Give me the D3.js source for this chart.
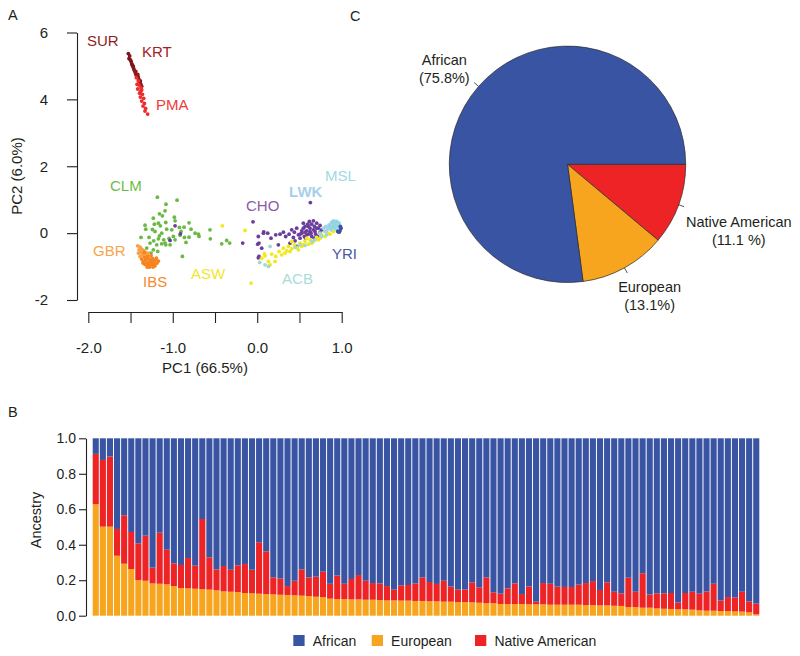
<!DOCTYPE html>
<html><head><meta charset="utf-8">
<script src="https://cdn.jsdelivr.net/npm/d3@7"></script>
<style>
body{margin:0;background:#fff}
text{font-family:"Liberation Sans",Arial,Helvetica,sans-serif;fill:#231f20}
</style>
</head><body>
<svg id="c" width="800" height="656"></svg>
<script>
// ---------------- Panel A: PCA scatter (PC1, PC2) ----------------
const ptsSUR = [[-1.526,5.37],[-1.510,5.30],[-1.518,5.22],[-1.502,5.18],[-1.494,5.14],[-1.486,5.07],[-1.479,5.02],[-1.471,5.00],[-1.467,4.97],[-1.463,4.92]];
const ptsKRT = [[-1.455,4.87],[-1.447,4.82],[-1.439,4.84],[-1.439,4.77],[-1.431,4.72],[-1.415,4.75],[-1.423,4.68],[-1.408,4.67],[-1.408,4.63],[-1.400,4.58],[-1.384,4.55],[-1.392,4.53],[-1.384,4.48],[-1.376,4.43],[-1.368,4.39]];
const ptsPMA = [[-1.431,4.65],[-1.408,4.55],[-1.400,4.43],[-1.423,4.45],[-1.376,4.35],[-1.368,4.28],[-1.415,4.31],[-1.384,4.23],[-1.392,4.18],[-1.360,4.15],[-1.384,4.07],[-1.344,4.03],[-1.368,3.95],[-1.336,3.88],[-1.352,3.80],[-1.321,3.73],[-1.329,3.65],[-1.297,3.56]];
const ptsCLM = [[-1.182,1.074],[-0.949,0.985],[-1.080,0.865],[-1.091,0.666],[-1.158,0.577],[-0.981,0.477],[-1.230,0.447],[-1.123,0.517],[-1.328,0.238],[-1.218,0.268],[-1.170,0.298],[-1.147,0.218],[-1.083,0.318],[-0.973,0.368],[-0.807,0.308],[-0.866,0.179],[-0.922,0.169],[-0.784,0.119],[-0.736,-0.001],[-1.320,0.119],[-1.241,0.109],[-1.210,0.049],[-1.131,-0.001],[-1.158,-0.080],[-1.376,-0.130],[-1.281,-0.130],[-1.226,-0.229],[-1.170,-0.170],[-1.107,-0.200],[-1.091,-0.299],[-1.044,-0.160],[-0.993,-0.100],[-0.973,-0.200],[-0.914,-0.060],[-0.862,-0.130],[-0.843,-0.279],[-0.807,-0.120],[-1.269,-0.299],[-1.190,-0.349],[-1.131,-0.319],[-1.308,-0.448],[-1.230,-0.498],[-1.257,-0.598],[-1.178,-0.548],[-0.886,-0.697],[-0.689,-0.100],[-0.902,0.049],[-1.012,0.099],[-1.072,0.119],[-1.032,-0.349],[-1.083,-0.349],[-0.697,-0.031],[-0.559,0.098],[-0.555,-0.170],[-0.421,-0.319],[-0.362,-0.220],[-0.326,-0.299]];
const ptsGBR = [[-1.415,-0.379],[-1.387,-0.418],[-1.368,-0.478],[-1.399,-0.498],[-1.348,-0.518],[-1.376,-0.578],[-1.328,-0.558],[-1.360,-0.647],[-1.320,-0.627],[-1.289,-0.598],[-1.387,-0.697],[-1.407,-0.598]];
const ptsIBS = [[-1.336,-0.717],[-1.297,-0.697],[-1.257,-0.677],[-1.368,-0.777],[-1.320,-0.797],[-1.281,-0.777],[-1.241,-0.757],[-1.202,-0.797],[-1.348,-0.846],[-1.304,-0.876],[-1.265,-0.846],[-1.226,-0.856],[-1.186,-0.896],[-1.328,-0.936],[-1.289,-0.956],[-1.249,-0.936],[-1.210,-0.976],[-1.273,-1.015],[-1.234,-1.015],[-1.304,-1.015],[-1.170,-0.836],[-1.336,-0.578],[-1.312,-0.757],[-1.273,-0.896],[-1.218,-0.916],[-1.249,-0.817],[-1.352,-0.896],[-1.194,-0.747]];
const ptsCHO = [[0.073,-0.001],[0.124,-0.001],[0.163,-0.150],[0.219,-0.051],[0.270,-0.031],[0.310,0.029],[0.337,-0.101],[0.377,-0.031],[0.408,0.098],[0.440,0.029],[0.467,0.148],[0.487,-0.051],[0.527,0.068],[0.566,0.198],[0.598,0.267],[0.625,0.148],[0.645,0.267],[0.677,0.198],[0.704,0.297],[0.724,0.148],[0.606,-0.031],[0.558,-0.101],[0.507,-0.150],[0.448,-0.230],[0.388,-0.300],[0.428,-0.131],[0.467,-0.399],[0.527,-0.001],[0.586,0.068],[0.637,-0.001],[0.665,0.098],[0.692,-0.031],[0.744,0.228],[0.763,0.098],[0.546,0.297],[0.665,0.367],[0.617,0.347],[0.021,-0.698],[0.053,-0.449],[0.006,-0.330],[0.013,-0.101],[0.250,-0.350],[0.574,-0.150],[0.716,-0.101],[0.677,-0.150],[0.629,0.914],[0.546,0.148],[0.586,-0.051],[0.625,0.049],[0.684,0.049],[0.645,-0.101],[0.566,0.029],[0.507,-0.031],[0.606,0.198],[0.704,0.148],[0.744,0.029],[-0.050,0.337],[0.077,0.039],[-0.172,-0.299],[0.021,-0.299],[0.013,-0.737],[-0.973,0.218],[-0.910,-0.020],[-1.032,-0.219]];
const ptsASW = [[0.053,-0.748],[0.092,-0.678],[0.132,-0.847],[0.171,-0.628],[0.219,-0.698],[0.258,-0.549],[0.310,-0.449],[0.349,-0.529],[0.369,-0.399],[0.408,-0.469],[0.440,-0.350],[0.467,-0.429],[0.507,-0.300],[0.527,-0.399],[0.566,-0.250],[0.606,-0.330],[0.625,-0.200],[0.665,-0.250],[0.704,-0.131],[0.744,-0.150],[0.763,-0.051],[0.803,-0.101],[0.834,-0.001],[0.862,-0.031],[0.902,0.049],[0.329,-0.598],[0.388,-0.549],[0.487,-0.499],[0.546,-0.350],[0.645,-0.300],[0.724,-0.200],[0.290,-0.648],[0.211,-0.847],[0.152,-0.947],[0.408,-0.250],[0.586,-0.150],[-0.413,0.218],[-0.144,0.079],[-0.073,-1.494],[0.085,-0.618]];
const ptsACB = [[0.152,-0.399],[0.092,-0.947],[0.132,-0.996],[0.448,-0.429],[0.507,-0.350],[0.566,-0.369],[0.645,-0.250],[0.684,-0.200],[0.763,-0.101],[0.803,0.049],[0.842,0.148],[0.882,0.148],[0.783,0.148],[0.744,-0.001],[0.823,-0.051],[0.029,-0.877]];
const ptsLWK = [[0.850,0.248],[0.874,0.168],[0.834,0.148],[0.902,0.228],[0.811,0.198],[0.921,0.267],[0.823,0.068]];
const ptsMSL = [[0.882,0.327],[0.913,0.267],[0.941,0.347],[0.961,0.198],[0.921,0.148],[0.890,0.198],[0.969,0.297],[0.945,0.098],[0.874,0.098],[0.984,0.148],[0.905,0.367],[0.937,0.228],[0.862,0.228],[0.902,0.297]];
const ptsYRI = [[0.980,0.068],[0.992,0.148],[0.969,0.029],[0.953,0.049],[0.984,0.198]];

const popNames = ["CLM","CHO","ASW","ACB","LWK","MSL","YRI","GBR","IBS","SUR","KRT","PMA"];
const popPoints = {CLM:ptsCLM,CHO:ptsCHO,ASW:ptsASW,ACB:ptsACB,LWK:ptsLWK,MSL:ptsMSL,YRI:ptsYRI,GBR:ptsGBR,IBS:ptsIBS,SUR:ptsSUR,KRT:ptsKRT,PMA:ptsPMA};
// label anchor positions (data units: PC1, PC2)
const popLabelPC1 = {SUR:-2.015,KRT:-1.364,PMA:-1.198,CLM:-1.743,LWK:0.377,MSL:0.803,CHO:-0.133,GBR:-1.944,YRI:0.885,IBS:-1.352,ASW:-0.784,ACB:0.294};
const popLabelPC2 = {SUR:5.59,KRT:5.26,PMA:3.68,CLM:1.26,LWK:1.08,MSL:1.56,CHO:0.67,GBR:-0.68,YRI:-0.77,IBS:-1.60,ASW:-1.36,ACB:-1.51};
const pc1Ticks = [-2,-1.5,-1,-0.5,0,0.5,1];
const pc2Ticks = [-2,0,2,4,6];

// ---------------- Panel B: ancestry per individual ----------------
const european = [0.628,0.502,0.502,0.338,0.293,0.263,0.201,0.197,0.182,0.180,
0.177,0.167,0.156,0.154,0.152,0.150,0.147,0.143,0.137,0.135,
0.133,0.128,0.126,0.124,0.122,0.120,0.118,0.117,0.115,0.113,
0.111,0.107,0.105,0.096,0.094,0.094,0.092,0.092,0.090,0.090,
0.088,0.086,0.086,0.085,0.085,0.083,0.083,0.081,0.081,0.079,
0.079,0.077,0.077,0.075,0.073,0.071,0.071,0.066,0.066,0.066,
0.066,0.064,0.064,0.064,0.062,0.062,0.062,0.062,0.062,0.060,
0.060,0.058,0.058,0.056,0.055,0.049,0.049,0.045,0.045,0.041,
0.039,0.038,0.036,0.036,0.034,0.030,0.028,0.028,0.026,0.026,
0.024,0.023,0.019,0.008];
const nativeAmerican = [0.284,0.376,0.395,0.151,0.273,0.209,0.207,0.254,0.089,0.288,
0.195,0.128,0.130,0.171,0.130,0.395,0.182,0.118,0.143,0.124,
0.151,0.163,0.133,0.290,0.241,0.096,0.091,0.050,0.082,0.148,
0.105,0.113,0.143,0.084,0.132,0.086,0.115,0.137,0.107,0.094,
0.094,0.081,0.061,0.086,0.088,0.099,0.133,0.109,0.098,0.118,
0.085,0.070,0.071,0.113,0.087,0.145,0.061,0.058,0.088,0.116,
0.056,0.101,0.015,0.120,0.118,0.102,0.100,0.100,0.113,0.124,
0.135,0.087,0.130,0.079,0.071,0.165,0.086,0.194,0.075,0.085,
0.087,0.090,0.039,0.092,0.101,0.094,0.109,0.152,0.059,0.079,
0.079,0.112,0.062,0.060];
const ancestryTicks = [0,0.2,0.4,0.6,0.8,1.0];
const legendNames = ["African","European","Native American"];

// ---------------- Panel C: pie ----------------
const pieNames = ["Native American","European","African"];
const pieShares = [11.1, 11.8, 77.1];          // slice sizes as drawn
const pieLabels = ["(11.1 %)","(13.1%)","(75.8%)"];

// ---------------- styles / layout ----------------
const colors = {"African":"#3a54a4","European":"#f7a51f","Native American":"#ed2326"};
const popPointColor = {SUR:"#7e1518",KRT:"#8e1a1d",PMA:"#ee2c2e",CLM:"#6bb945",GBR:"#f8a043",IBS:"#f5841f",ASW:"#f2e81a",ACB:"#9fd9d2",CHO:"#6b3e9b",LWK:"#a7d2ee",MSL:"#8fd6e2",YRI:"#3f4fa3"};
const popLabelColor = {SUR:"#8f1d20",KRT:"#9f2226",PMA:"#ef3a3a",CLM:"#6cbd46",GBR:"#f8a44c",IBS:"#f6892a",ASW:"#f1e72c",ACB:"#a8dcd8",CHO:"#8a5ba8",LWK:"#a6d0ea",MSL:"#9edbe2",YRI:"#4a58a6"};
const FONT = '"Liberation Sans",Arial,Helvetica,sans-serif';
const INK = "#231f20";

const svg = d3.select("#c");

// ===== Panel A =====
const xS = d3.scaleLinear().domain([-2,1]).range([88.3,341.7]);
const yS = d3.scaleLinear().domain([-2,6]).range([300,32.5]);

const yAx = svg.append("g").attr("transform","translate(77,0)")
  .call(d3.axisLeft(yS).tickValues(pc2Ticks).tickSize(10).tickSizeOuter(0).tickPadding(19).tickFormat(d=>String(d)));
const xAx = svg.append("g").attr("transform","translate(0,312)")
  .call(d3.axisBottom(xS).tickValues(pc1Ticks).tickSize(11).tickSizeOuter(0).tickPadding(19)
    .tickFormat(d=>Number.isInteger(d)?d.toFixed(1):""));
[yAx,xAx].forEach(g=>{
  g.attr("font-family",FONT).attr("font-size",15);
  g.selectAll("path,line").attr("stroke",INK).attr("stroke-width",1.1);
  g.selectAll("text").attr("fill",INK);
});

svg.append("text").attr("x",205).attr("y",373).attr("text-anchor","middle")
  .attr("font-size",15).text("PC1 (66.5%)");
svg.append("text").attr("transform","translate(21.5,176) rotate(-90)").attr("text-anchor","middle")
  .attr("font-size",15).text("PC2 (6.0%)");

popNames.forEach(p=>{
  svg.append("g").selectAll("circle").data(popPoints[p]).join("circle")
    .attr("cx",d=>xS(d[0])).attr("cy",d=>yS(d[1])).attr("r",1.9)
    .attr("fill",popPointColor[p]);
});
Object.keys(popLabelPC1).forEach(p=>{
  svg.append("text").attr("x",xS(popLabelPC1[p])).attr("y",yS(popLabelPC2[p]))
    .attr("font-size",15).attr("font-weight",p==="LWK"?"bold":"normal")
    .style("fill",popLabelColor[p]).text(p);
});

// ===== Panel B =====
const rows = european.map((e,i)=>({id:i,"European":e,"Native American":nativeAmerican[i],"African":1-e-nativeAmerican[i]}));
const stack = d3.stack().keys(["European","Native American","African"])(rows);
const xB = d3.scaleBand().domain(d3.range(rows.length)).range([92.7,759.3]).paddingInner(0.14).paddingOuter(0);
const yB = d3.scaleLinear().domain([0,1]).range([615.7,438.3]);
svg.append("g").selectAll("g").data(stack).join("g").attr("fill",d=>colors[d.key])
  .selectAll("rect").data(d=>d).join("rect")
  .attr("x",(d,i)=>xB(i)).attr("width",xB.bandwidth())
  .attr("y",d=>yB(d[1])).attr("height",d=>yB(d[0])-yB(d[1]));
const bAx = svg.append("g").attr("transform","translate(86,0)")
  .call(d3.axisLeft(yB).tickValues(ancestryTicks).tickSize(7).tickSizeOuter(0).tickPadding(3).tickFormat(d=>d.toFixed(1)));
bAx.attr("font-family",FONT).attr("font-size",14);
bAx.selectAll("path,line").attr("stroke",INK).attr("stroke-width",1.1);
bAx.selectAll("text").attr("fill",INK);
svg.append("text").attr("transform","translate(40.5,520) rotate(-90)").attr("text-anchor","middle")
  .attr("font-size",14.5).text("Ancestry");

// legend
const legendX = [293.3,371.7,475];
legendNames.forEach((n,i)=>{
  svg.append("rect").attr("x",legendX[i]).attr("y",635).attr("width",11.3).attr("height",11).attr("fill",colors[n]);
  svg.append("text").attr("x",legendX[i]+19.4).attr("y",645.6).attr("font-size",14).text(n);
});

// ===== Panel C =====
const cx=567.5, cy=164.3, R=118.2;
const arcs = d3.pie().sort(null).startAngle(Math.PI/2).endAngle(Math.PI/2+2*Math.PI)(pieShares);
const arcGen = d3.arc().innerRadius(0).outerRadius(R);
const pg = svg.append("g").attr("transform",`translate(${cx},${cy})`);
pg.selectAll("path").data(arcs).join("path").attr("d",arcGen)
  .attr("fill",(d,i)=>colors[pieNames[i]]).attr("stroke","#2a2a2a").attr("stroke-width",0.7);
const labelShift = [{dx:-3.7,dy:18.2},{dx:-12,dy:14.1},{dx:0,dy:-13.6}];
arcs.forEach((a,i)=>{
  const m=(a.startAngle+a.endAngle)/2, s=Math.sin(m), c=-Math.cos(m);
  pg.append("line").attr("x1",R*s).attr("y1",R*c).attr("x2",1.05*R*s).attr("y2",1.05*R*c)
    .attr("stroke","#2a2a2a").attr("stroke-width",0.8);
  const ax=1.1*R*s+labelShift[i].dx, ay=1.1*R*c+labelShift[i].dy;
  const t1=pg.append("text").attr("font-size",14.5).text(pieNames[i]);
  const t2=pg.append("text").attr("font-size",14.5).text(pieLabels[i]);
  const W=Math.max(t1.node().getComputedTextLength(),t2.node().getComputedTextLength());
  const mid = s>0 ? ax+W/2 : ax-W/2;
  t1.attr("x",mid).attr("y",ay).attr("text-anchor","middle");
  t2.attr("x",mid).attr("y",ay+17.7).attr("text-anchor","middle");
});

// panel letters
[["A",8,19.5],["B",8,417],["C",350,20.5]].forEach(([t,x,y])=>{
  svg.append("text").attr("x",x).attr("y",y).attr("font-size",14.5).text(t);
});
</script>
</body></html>
